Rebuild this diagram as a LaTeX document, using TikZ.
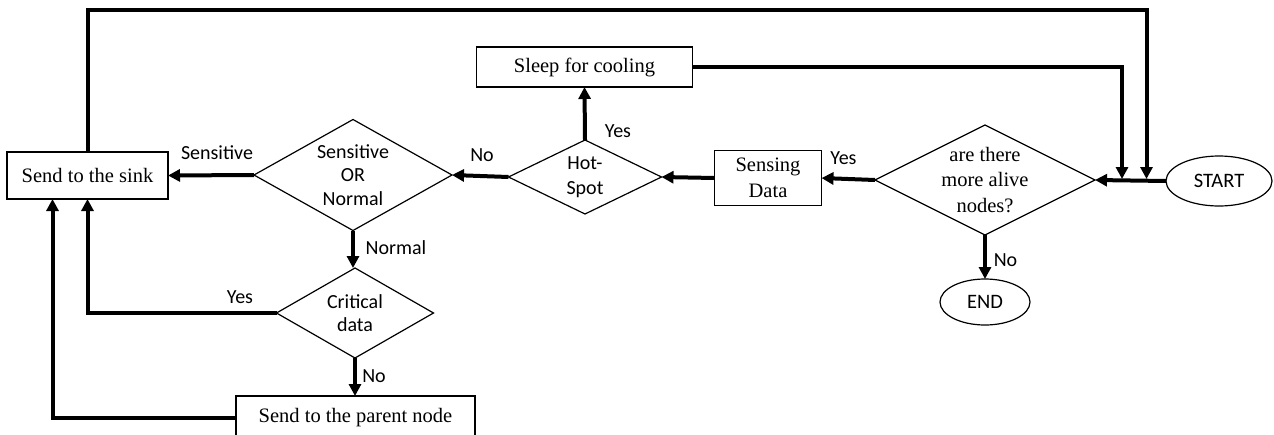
\documentclass[tikz,border=0pt]{standalone}
\usepackage{fontspec}
\setmainfont{Liberation Serif}
\newfontfamily\calfont{Carlito}
\usetikzlibrary{shapes.geometric,arrows.meta}
\begin{document}
\begin{tikzpicture}[x=1pt,y=-1pt,
  rectbox/.style={draw, line width=1.2pt, inner sep=0pt, outer sep=0pt, align=center,
    font=\fontsize{20.5}{26}\selectfont},
  dia/.style={diamond, draw, line width=1.2pt, inner sep=0pt, outer sep=0pt},
  diatext/.style={align=center, font=\calfont\fontsize{20}{23.5}\selectfont},
  diaserif/.style={align=center, font=\fontsize{20.5}{25.5}\selectfont},
  oval/.style={ellipse, draw, line width=1.2pt, inner sep=0pt, outer sep=0pt,
    font=\calfont\fontsize{20.5}{24}\selectfont},
  arr/.style={line width=4pt, -{Triangle[length=12pt,width=12pt]}},
  lbl/.style={font=\calfont\fontsize{20}{24}\selectfont, inner sep=0pt}]
\useasboundingbox (0,0) rectangle (1274,434);
\clip (0,0) rectangle (1274,434);

% nodes
\node[rectbox, minimum width=161pt, minimum height=47pt] (sink) at (87.5,175.5) {Send to the sink};
\node[rectbox, minimum width=216pt, minimum height=40pt] (sleep) at (584.5,67) {Sleep for cooling};
\node[rectbox, minimum width=107pt, minimum height=55pt] (sens) at (768,178) {Sensing\\Data};
\node[rectbox, minimum width=239pt, minimum height=44pt] (parent) at (355.5,418) {Send to the parent node};
\node[oval, minimum width=106pt, minimum height=50pt] (start) at (1219,181) {START};
\node[oval, minimum width=90pt, minimum height=46pt] (end) at (985,302) {END};
\node[dia, minimum width=220pt, minimum height=110pt,
  label={[diaserif]center:are there\\more alive\\nodes?}] (alive) at (985,180) {};
\node[dia, minimum width=153pt, minimum height=74pt,
  label={[diatext, font=\calfont\fontsize{20}{25}\selectfont]center:Hot-\\Spot}] (hot) at (585,177) {};
\node[dia, minimum width=198pt, minimum height=111pt,
  label={[diatext]center:Sensitive\\OR\\Normal}] (son) at (353,175) {};
\node[dia, minimum width=157pt, minimum height=90pt,
  label={[diatext]center:Critical\\data}] (crit) at (355,313) {};

\coordinate (j1) at (1122,179);
\coordinate (j2) at (1146.5,179);
\coordinate (topl) at (88,10);

% connectors
\draw[arr] (start.west) -- (alive.east);
\draw[arr] (alive.west) -- (sens.east);
\draw[arr] (sens.west) -- (hot.east);
\draw[arr] (hot.north) -- (sleep.south);
\draw[arr] (hot.west) -- (son.east);
\draw[arr] (son.west) -- (sink.east);
\draw[arr] (son.south) -- (son.south |- crit.north);
\draw[arr] (crit.west) -| (sink.south);
\draw[arr] (crit.south) -- (parent.north -| crit.south);
\draw[arr] (parent.west) -| ([xshift=-35pt]sink.south);
\draw[arr] (alive.south) -- (end.north);
\draw[arr] (sleep.east) -| (j1);
\draw[arr] (sink.north) -- (sink.north |- topl) -| (j2);

% labels
\node[lbl] (l1) at (843.5,158) {Yes};
\node[lbl] (l2) at (618,131) {Yes};
\node[lbl] (l3) at (482,155) {No};
\node[lbl] (l4) at (217,153) {Sensitive};
\node[lbl] (l5) at (396,248) {Normal};
\node[lbl] (l6) at (240,297) {Yes};
\node[lbl] (l7) at (374,376) {No};
\node[lbl] (l8) at (1005.5,260) {No};
\end{tikzpicture}
\end{document}
